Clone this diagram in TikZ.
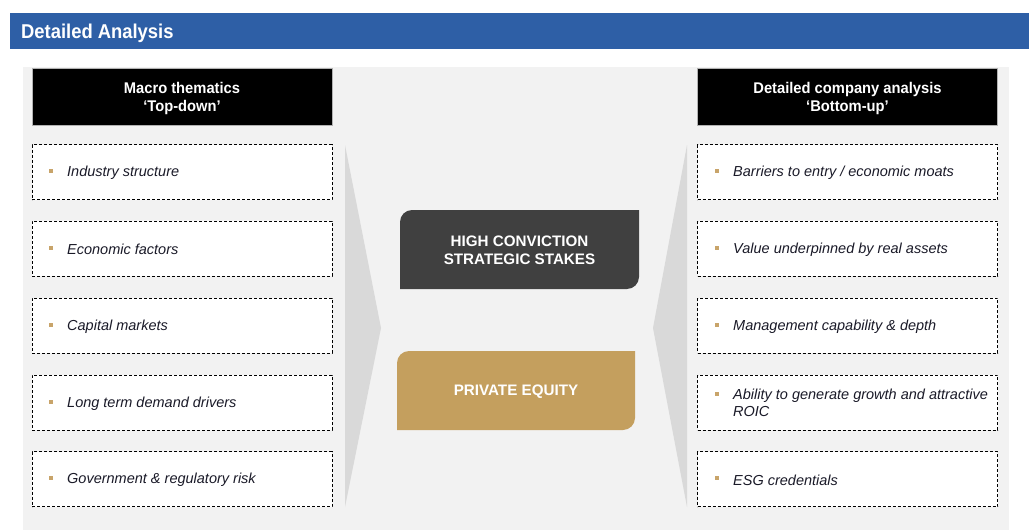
\documentclass[tikz,border=0pt]{standalone}
\usepackage{fontspec}
\setmainfont{Liberation Sans}
\newfontfamily\narrowbold[FakeStretch=0.92]{Liberation Sans Bold}
\newfontfamily\headbold[FakeStretch=0.95]{Liberation Sans Bold}
\definecolor{titleblue}{HTML}{2E5FA6}
\definecolor{panelgray}{HTML}{F2F2F2}
\definecolor{wedgegray}{HTML}{D9D9D9}
\definecolor{darkbox}{HTML}{404040}
\definecolor{goldbox}{HTML}{C49F5E}
\definecolor{bulletgold}{HTML}{C8A46A}
\definecolor{itemtext}{HTML}{1A1A28}
\tikzset{
  header/.style={fill=black, draw=gray!60, line width=0.6pt, minimum width=300pt, minimum height=57pt,
    text=white, align=center, inner sep=0pt, font=\headbold\fontsize{15.5}{18}\selectfont},
  itembox/.style={fill=white, draw=black, dashed, dash pattern=on 3pt off 2pt, line width=0.7pt,
    minimum width=300pt, minimum height=55pt, inner sep=0pt},
  itemtext/.style={anchor=west, text=itemtext, align=left, inner sep=0pt,
    font=\itshape\fontsize{14.5}{17}\selectfont},
  bulletmark/.style={fill=bulletgold, minimum size=4pt, inner sep=0pt},
  centerbox/.style={text=white, align=center, inner sep=0pt,
    font=\bfseries\fontsize{15.2}{18}\selectfont},
}
\begin{document}
\begin{tikzpicture}[x=1pt,y=-1pt]
  \useasboundingbox (0,0) rectangle (1029,530);
  \fill[white] (0,0) rectangle (1029,530);
  % title bar
  \fill[titleblue] (10,13) rectangle (1029,49);
  \node[anchor=west, text=white, inner sep=0pt, font=\narrowbold\fontsize{20}{22}\selectfont] (title) at (21,33) {Detailed Analysis};
  % panel
  \fill[panelgray] (23,67) rectangle (1009,530);
  % wedges pointing to the centre
  \fill[wedgegray] (345,145) -- (381,328) -- (345,507) -- cycle;
  \fill[wedgegray] (687,145) -- (653,328) -- (687,507) -- cycle;
  % column headers
  \node[header] (lhead) at (182,96.5) {};
  \node[text=white, align=center, inner sep=0pt, font=\headbold\fontsize{15.5}{18}\selectfont] (lheadtext) at (182,98.5) {Macro thematics\\‘Top-down’};
  \node[header] (rhead) at (847.5,96.5) {};
  \node[text=white, align=center, inner sep=0pt, font=\headbold\fontsize{15.5}{18}\selectfont] (rheadtext) at (847.5,98.5) {Detailed company analysis\\‘Bottom-up’};
  % left column items
  \foreach \i/\y/\t in {1/172/{Industry structure}, 2/248.5/{Economic factors}, 3/325.5/{Capital markets},
                        4/402.5/{Long term demand drivers}, 5/479/{Government \& regulatory risk}} {
    \node[itembox] (l\i) at (182,\y) {};
    \node[bulletmark] (lb\i) at (50.5,\y-1) {};
    \node[itemtext] (lt\i) at (67,\y+1) {\t};
  }
  % right column items
  \foreach \i/\y/\t in {1/172/{Barriers to entry / economic moats}, 2/248.5/{Value underpinned by real assets},
                        3/325.5/{Management capability \& depth}, 5/479/{ESG credentials}} {
    \node[itembox] (r\i) at (847.5,\y) {};
    \node[bulletmark] (rb\i) at (716.5,\y-1) {};
    \node[itemtext] (rt\i) at (733,\y+1) {\t};
  }
  \node[itembox] (r4) at (847.5,402.5) {};
  \node[bulletmark] (rb4) at (716.5,393.5) {};
  \node[itemtext] (rt4) at (733,403) {Ability to generate growth and attractive\\ROIC};
  % centre boxes, rounded at top-left and bottom-right
  \fill[darkbox] (400,289) -- (400,222) .. controls (400,215.4) and (405.4,210) .. (412,210)
    -- (639,210) -- (639,277) .. controls (639,283.6) and (633.6,289) .. (627,289) -- cycle;
  \node[centerbox] (hc) at (519.5,250.5) {HIGH CONVICTION\\STRATEGIC STAKES};
  \fill[goldbox] (397,430) -- (397,363) .. controls (397,356.4) and (402.4,351) .. (409,351)
    -- (635,351) -- (635,418) .. controls (635,424.6) and (629.6,430) .. (623,430) -- cycle;
  \node[centerbox] (pe) at (516,391.5) {PRIVATE EQUITY};
\end{tikzpicture}
\end{document}
